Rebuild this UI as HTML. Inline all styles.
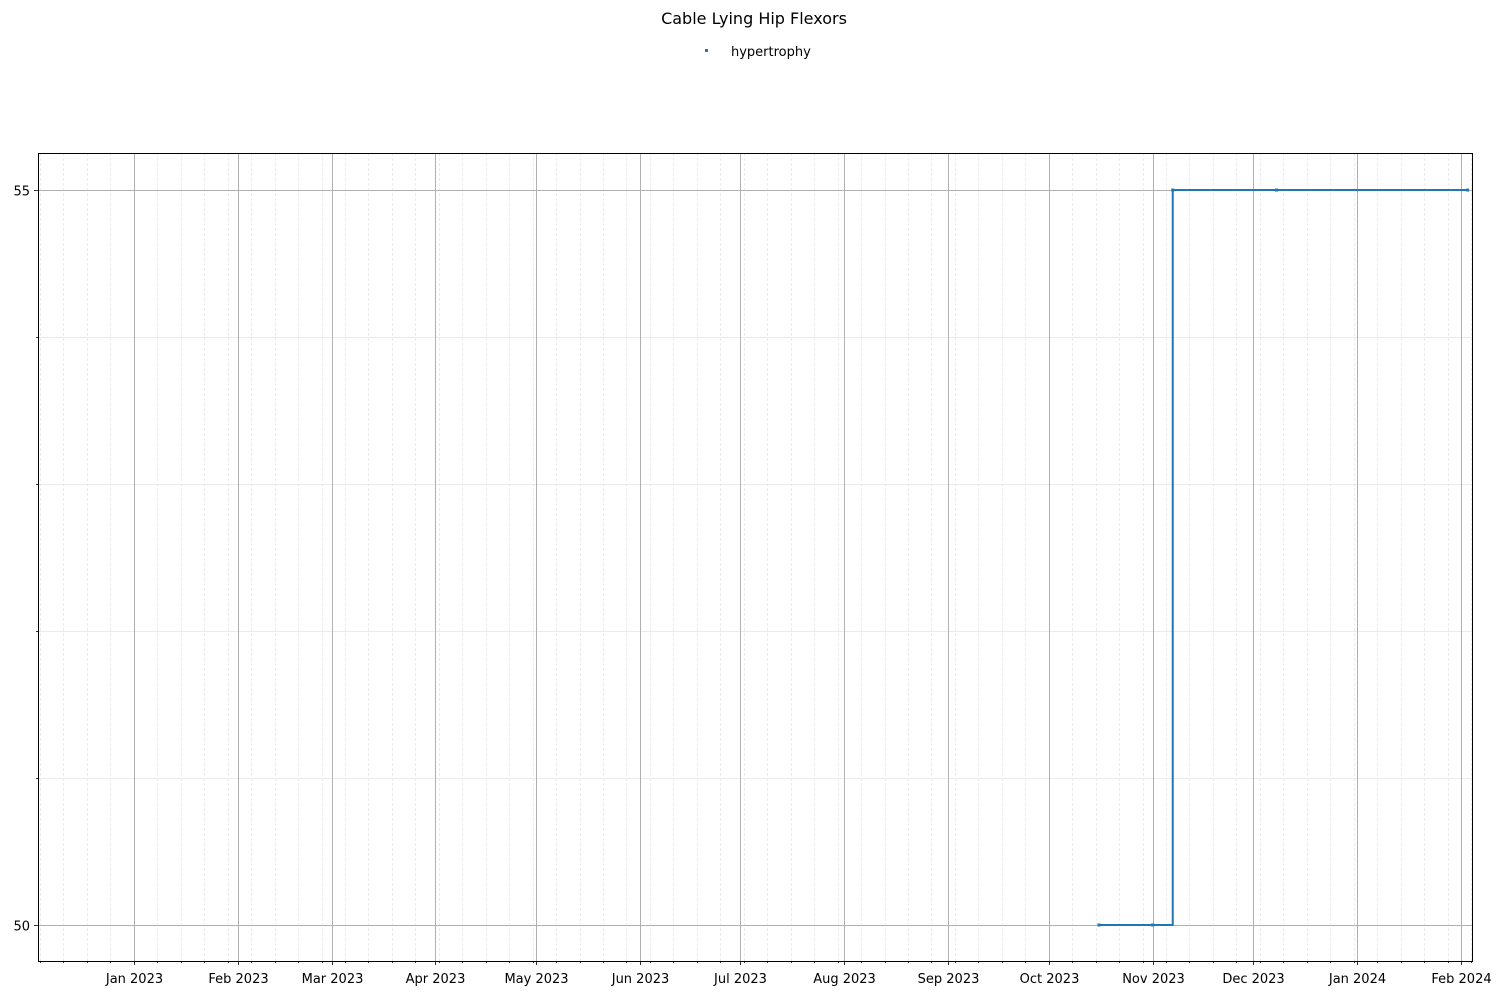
<!DOCTYPE html>
<html><head><meta charset="utf-8"><style>
body{margin:0;background:#fff;}
svg text{font-family:"DejaVu Sans","Liberation Sans",sans-serif;font-size:13px;fill:#000;}
</style></head><body>
<svg id="chart" width="1502" height="995" xmlns="http://www.w3.org/2000/svg">
<text x="754" y="24" text-anchor="middle" style="font-size:16px">Cable Lying Hip Flexors</text>
<g>
<rect x="705" y="49" width="3" height="3" fill="#1f77b4"/>
<text x="731" y="56">hypertrophy</text>
</g>
<g id="grid"></g><g id="axes"></g><g id="series"></g>
<rect x="38.5" y="153.5" width="1434" height="808" fill="none" stroke="#000" stroke-width="1"/>
</svg>
<script>
const dates = ["2023-10-16","2023-11-01","2023-11-07","2023-12-08","2024-02-03"];
const values = [50,50,55,55,55];
const yTicks = [50,55];
const monthTicks = ["2023-01-01","2023-02-01","2023-03-01","2023-04-01","2023-05-01","2023-06-01","2023-07-01","2023-08-01","2023-09-01","2023-10-01","2023-11-01","2023-12-01","2024-01-01","2024-02-01"];
const monthLabels = ["Jan 2023","Feb 2023","Mar 2023","Apr 2023","May 2023","Jun 2023","Jul 2023","Aug 2023","Sep 2023","Oct 2023","Nov 2023","Dec 2023","Jan 2024","Feb 2024"];

const NS="http://www.w3.org/2000/svg";
const L=38,R=1472,T=153,B=961;
const day=86400000;
const t0=Date.UTC(2023,0,1);
const dMin=-28.6,dMax=399.3;
function dd(s){const p=s.split("-");return (Date.UTC(+p[0],p[1]-1,+p[2])-t0)/day;}
function x(s){const d=typeof s==="number"?s:dd(s);return L+(d-dMin)/(dMax-dMin)*(R-L);}
const yMin=49.755,yMax=55.252;
function y(v){return B-(v-yMin)/(yMax-yMin)*(B-T);}
function mk(tag,attrs,parent){const e=document.createElementNS(NS,tag);for(const k in attrs)e.setAttribute(k,attrs[k]);parent.appendChild(e);return e;}
const grid=document.getElementById('grid'),axes=document.getElementById('axes'),series=document.getElementById('series');
// weekly minor (Sundays)
for(let d=-28;d<=dMax;d+=7){const X=Math.round(x(d))+0.5;
 const g=mk('line',{x1:X,x2:X,y1:T,y2:B,stroke:'#ebebeb','stroke-width':1,'stroke-dasharray':'3,2'},grid);
 
 const t=mk('line',{x1:X,x2:X,y1:B,y2:B+2,stroke:'#000','stroke-width':0.8},axes);
 }
// minor y
for(let v=50;v<=55;v++){const Y=Math.round(y(v))+0.5;
 if(!yTicks.includes(v)){const g=mk('line',{x1:L,x2:R,y1:Y,y2:Y,stroke:'#ebebeb','stroke-width':1},grid);
 
 const t=mk('line',{x1:L-2,x2:L,y1:Y,y2:Y,stroke:'#000','stroke-width':0.8},axes);
 }}
monthTicks.forEach((m,i)=>{const X=Math.round(x(m))+0.5;
 const g=mk('line',{x1:X,x2:X,y1:T,y2:B,stroke:'#b0b0b0','stroke-width':1},grid);
 
 const t=mk('line',{x1:X,x2:X,y1:B,y2:B+4,stroke:'#000','stroke-width':0.8},axes);
 
 const tx=mk('text',{x:X,y:B+22,'text-anchor':'middle'},axes);tx.textContent=monthLabels[i];
 });
yTicks.forEach(v=>{const Y=Math.round(y(v))+0.5;
 const g=mk('line',{x1:L,x2:R,y1:Y,y2:Y,stroke:'#b0b0b0','stroke-width':1},grid);
 
 const t=mk('line',{x1:L-4,x2:L,y1:Y,y2:Y,stroke:'#000','stroke-width':0.8},axes);
 
 const tx=mk('text',{x:L-8,y:Y+5,'text-anchor':'end'},axes);tx.textContent=v;
 });
// step-post line
let d="";dates.forEach((s,i)=>{const X=x(s),Y=y(values[i]);
 if(i===0)d+="M"+X+","+Y;else d+=" H"+X+" V"+Y;});
const p=mk('path',{d:d,fill:'none',stroke:'#1f77b4','stroke-width':2},series);

dates.forEach((s,i)=>{const c=mk('rect',{x:x(s)-1.5,y:y(values[i])-1.5,width:3,height:3,fill:'#1f77b4'},series);
 });
</script>
</body></html>
